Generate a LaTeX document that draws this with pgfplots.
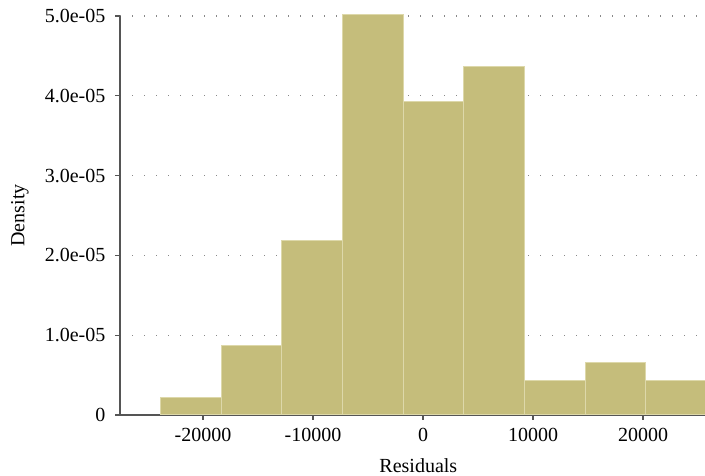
\documentclass[border=0pt]{standalone}
\usepackage{fontspec}
\setmainfont{Liberation Serif}
\usepackage{pgfplots}
\pgfplotsset{compat=1.18}
\definecolor{barfill}{HTML}{C5BD7B}
\definecolor{baredge}{HTML}{DDD8AA}
\definecolor{axcol}{HTML}{555555}
\definecolor{gridcol}{HTML}{888888}
\pgfplotsset{
  layers/mylayers/.define layer set={axis background,axis grid,pre main,main,axis ticks,axis lines,axis tick labels,axis descriptions,axis foreground}{},
}
\begin{document}
\fontsize{15pt}{18pt}\selectfont
\begin{tikzpicture}
\begin{axis}[
  set layers=mylayers,
  scale only axis,
  width=438.75pt, height=299.25pt,
  xmin=-27545, xmax=25636,
  ymin=0, ymax=5e-5,
  scaled ticks=false,
  clip=false,
  axis x line*=bottom, axis y line*=left,
  axis line style={axcol, line width=1.1pt, -},
  tick align=outside,
  major tick length=3.75pt,
  tick style={axcol, line width=0.9pt},
  xtick={-20000,-10000,0,10000,20000},
  xticklabels={-20000,-10000,0,10000,20000},
  ytick={0,1e-5,2e-5,3e-5,4e-5,5e-5},
  yticklabels={0,1.0e-05,2.0e-05,3.0e-05,4.0e-05,5.0e-05},
  ymajorgrids,
  grid style={gridcol, line width=0.9pt, dash pattern=on 0.9pt off 8.1pt},
  tick label style={font=\fontsize{15pt}{18pt}\selectfont},
  label style={font=\fontsize{15pt}{18pt}\selectfont},
  xlabel={Residuals},
  ylabel={Density},
  xlabel style={at={(axis description cs:0.51,-0.128)}, anchor=center},
  ylabel style={at={(axis description cs:-0.171,0.5)}, anchor=center},
  yticklabel style={xshift=-2pt},
  xticklabel style={yshift=-1pt},
]
\addplot[ybar interval, fill=barfill, draw=baredge, line width=0.75pt] table {
x y
-23850 2.185e-6
-18335 8.74e-6
-12820 2.185e-5
-7305 5.02e-5
-1790 3.93e-5
3725 4.37e-5
9240 4.37e-6
14755 6.55e-6
20270 4.37e-6
25785 4.37e-6
};
\end{axis}
\pgfresetboundingbox
\path ([xshift=-90pt,yshift=-45.75pt]current axis.south west) rectangle ([yshift=12pt]current axis.north east);
\end{tikzpicture}
\end{document}
